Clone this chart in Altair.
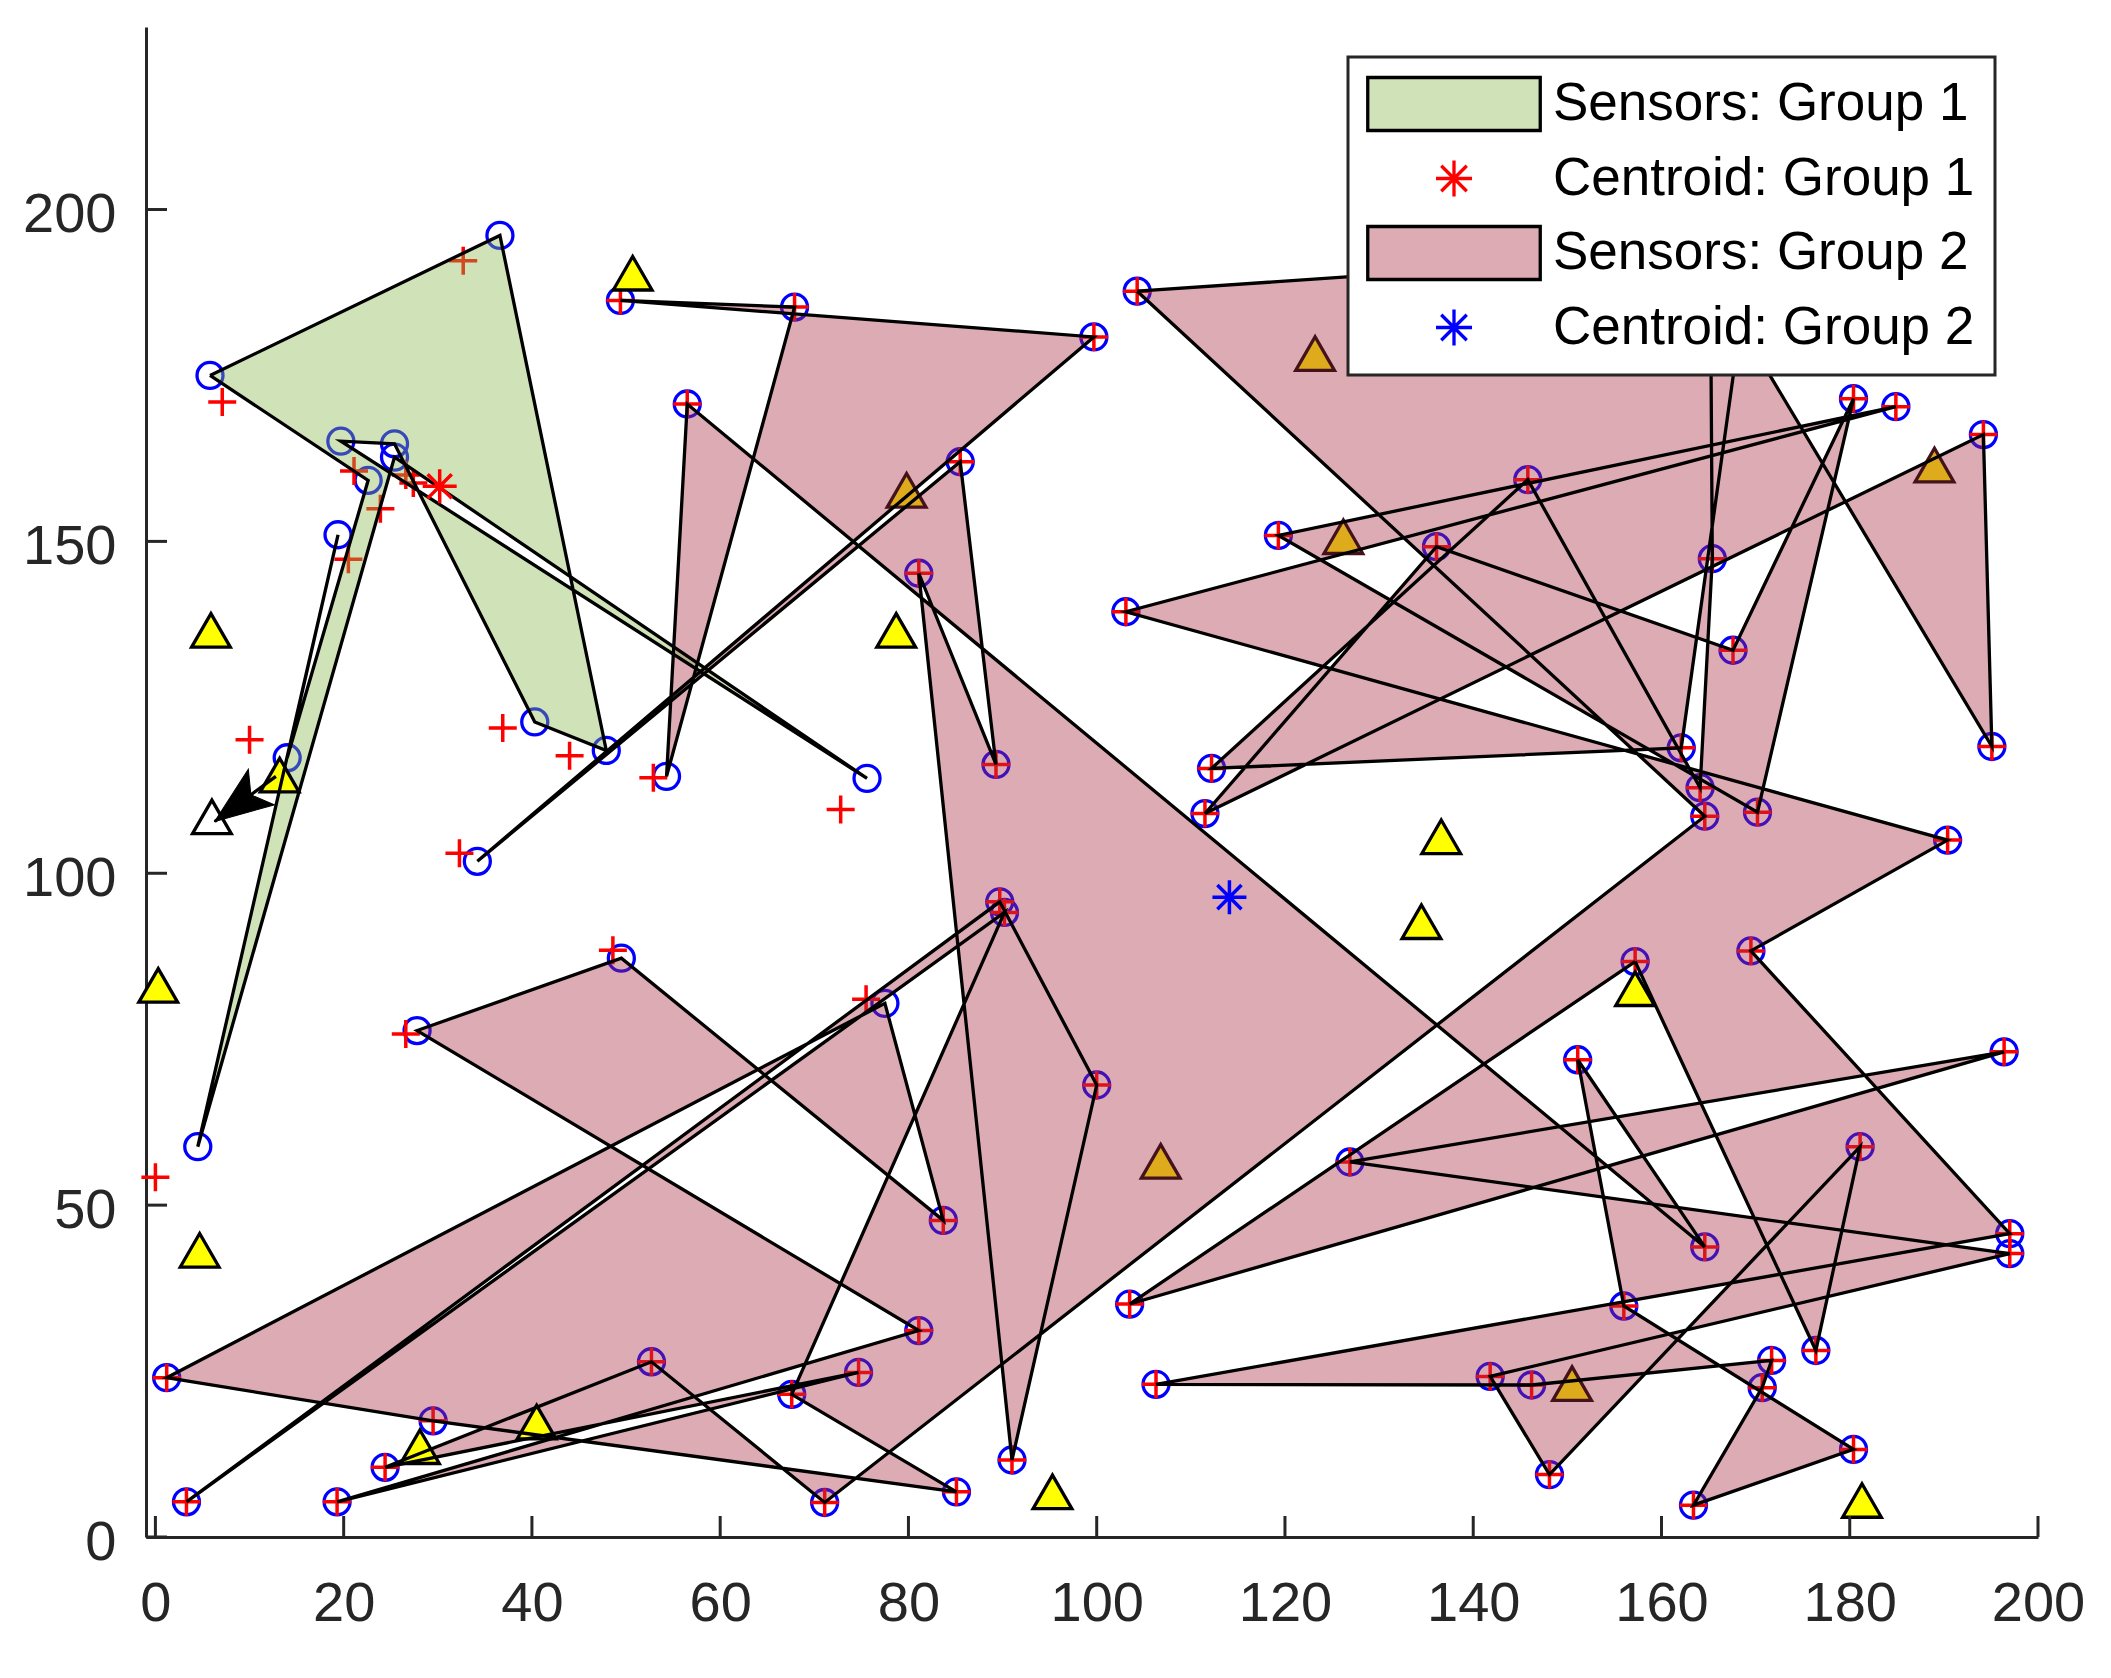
import altair as alt
import pandas as pd

# ---------------- data ----------------
# Group 1 sensors, listed in polygon (patch) vertex order
g1_x = [5.8, 36.6, 47.9, 40.3, 25.4, 19.7, 75.6, 25.4, 4.5, 19.4, 14.0, 22.6]
g1_y = [175.0, 196.1, 118.5, 122.8, 164.7, 165.1, 114.3, 162.7, 58.8, 151.0, 117.4, 159.2]
# Group 1 estimated positions (red +)
g1_est_x = [7.1, 32.7, 44.0, 36.9, 21.1, 26.6, 27.4, 23.9, 20.5, 10.0, 0.0, 72.8]
g1_est_y = [171.0, 192.3, 117.7, 121.9, 160.6, 160.0, 158.8, 154.9, 147.3, 120.1, 54.2, 109.6]

# Group 2 sensors, main patch ring in vertex order
g2_x = [104.3, 169.5, 162.1, 112.2, 145.8, 164.1, 165.4, 165.2, 195.1, 194.2, 111.5, 136.1,
        167.6, 180.4, 170.2, 119.3, 184.9, 103.1, 190.4, 169.5, 197.0, 106.3, 146.2, 171.7,
        170.7, 163.4, 180.4, 156.0, 151.1, 164.6, 56.5, 54.3, 67.9, 49.4, 99.7, 34.2,
        85.5, 89.3, 81.1, 91.0, 100.0, 89.7, 3.3, 90.2, 67.6, 85.1, 29.5, 1.2,
        77.5, 83.7, 49.5, 27.8, 81.1, 19.3, 74.7, 24.4, 52.7, 71.1, 164.6]
g2_y = [187.7, 194.0, 118.9, 115.8, 159.3, 112.9, 147.4, 190.0, 119.1, 166.1, 109.0, 149.2,
        133.6, 171.5, 109.2, 150.9, 170.3, 139.4, 105.0, 88.3, 45.7, 23.0, 22.9, 26.6,
        22.5, 4.8, 13.2, 34.8, 71.9, 43.7, 170.7, 114.6, 185.3, 186.3, 180.8, 101.8,
        162.0, 116.4, 145.2, 11.6, 68.1, 95.7, 5.3, 94.1, 21.5, 6.8, 17.5, 24.0,
        80.4, 47.7, 87.2, 76.3, 31.1, 5.3, 24.8, 10.5, 26.4, 5.2, 108.6]
# Group 2 sensors, second ring (lower right)
g2b_x = [157.2, 103.5, 196.4, 126.9, 197.0, 141.8, 148.1, 181.1, 176.4]
g2b_y = [86.7, 35.1, 73.1, 56.5, 42.7, 24.2, 9.4, 58.8, 28.1]
# position in the main ring where the second ring is joined for the fill
JOIN = 19
# Group 2 sensors whose estimate (red +) is offset, and those estimates
g2_off_x = [54.3, 34.2, 49.5, 27.8, 77.5]
g2_off_y = [114.6, 101.8, 87.2, 76.3, 80.4]
g2_offest_x = [52.9, 32.3, 48.6, 26.6, 75.5]
g2_offest_y = [114.4, 103.0, 88.4, 75.8, 81.0]

# Targets (triangles)
tri_yel_x = [50.7, 5.9, 0.3, 4.7, 13.2, 28.1, 40.5, 78.7, 95.3, 136.6, 134.5, 157.2, 181.3]
tri_yel_y = [190.4, 136.6, 83.1, 43.2, 114.8, 13.6, 17.3, 136.6, 6.8, 105.5, 92.7, 82.6, 5.5]
tri_cov_x = [79.8, 106.8, 123.2, 126.2, 189.0, 150.5]
tri_cov_y = [157.7, 56.6, 178.3, 150.7, 161.5, 23.1]
tri_white_x = [6.0]
tri_white_y = [108.5]

# Arrow (quiver) from target to new target
arrow_x0, arrow_y0 = [12.8], [114.6]
arrow_x1, arrow_y1 = [6.3], [107.8]

# Centroids
cent1_x, cent1_y = [30.2], [158.3]
cent2_x, cent2_y = [114.1], [96.4]

x_ticks = [0, 20, 40, 60, 80, 100, 120, 140, 160, 180, 200]
y_ticks = [0, 50, 100, 150, 200]

legend_labels = ["Sensors: Group 1", "Centroid: Group 1", "Sensors: Group 2", "Centroid: Group 2"]

# ---------------- frames ----------------
def ring_rows(xs_, ys_, ring):
    n = len(xs_)
    return [{'x': xs_[i % n], 'y': ys_[i % n], 'ord': i, 'ring': ring} for i in range(n + 1)]

poly1 = pd.DataFrame(ring_rows(g1_x, g1_y, 'a'))
# edges: two separate rings
poly2_edge = pd.DataFrame(ring_rows(g2_x, g2_y, 'a') + ring_rows(g2b_x, g2b_y, 'b'))
# fill: one single path (second ring spliced in with a zero-area bridge)
fx = g2_x[:JOIN + 1] + g2b_x + [g2b_x[0]] + g2_x[JOIN:]
fy = g2_y[:JOIN + 1] + g2b_y + [g2b_y[0]] + g2_y[JOIN:]
poly2_fill = pd.DataFrame(ring_rows(fx, fy, 'a'))

sens = pd.DataFrame({'x': g1_x + g2_x + g2b_x, 'y': g1_y + g2_y + g2b_y})

off_set = set(zip(g2_off_x, g2_off_y))
est_rows = [{'x': a, 'y': b} for a, b in zip(g1_est_x, g1_est_y)]
for a, b in zip(g2_x + g2b_x, g2_y + g2b_y):
    if (a, b) not in off_set:
        est_rows.append({'x': a, 'y': b})
est_rows += [{'x': a, 'y': b} for a, b in zip(g2_offest_x, g2_offest_y)]
est = pd.DataFrame(est_rows)

tri_y_df = pd.DataFrame({'x': tri_yel_x, 'y': tri_yel_y})
tri_c_df = pd.DataFrame({'x': tri_cov_x, 'y': tri_cov_y})
tri_w_df = pd.DataFrame({'x': tri_white_x, 'y': tri_white_y})
arrow_df = pd.DataFrame({'x': arrow_x0, 'y': arrow_y0, 'x2': arrow_x1, 'y2': arrow_y1})
head_df = pd.DataFrame({'x': arrow_x1, 'y': arrow_y1})
c1_df = pd.DataFrame({'x': cent1_x, 'y': cent1_y})
c2_df = pd.DataFrame({'x': cent2_x, 'y': cent2_y})
xt_df = pd.DataFrame({'x': x_ticks})
yt_df = pd.DataFrame({'y': y_ticks})
leg_df = pd.DataFrame({'x': [160.0] * 4, 'y': [200.0] * 4, 'item': legend_labels})

# ---------------- scales / axes ----------------
W, H = 1892, 1510
FONT = 'Liberation Sans'
AX = '#262626'
xs = alt.Scale(domain=[-1, 200], nice=False, zero=False)
ys = alt.Scale(domain=[0, 227.5], nice=False, zero=False)
xaxis = alt.Axis(values=x_ticks, ticks=False, labelPadding=39, labelFontSize=56, labelFont=FONT,
                 labelColor=AX, domainColor=AX, domainWidth=3, grid=False, title=None,
                 labelFlush=False, labelOverlap=False)
yaxis = alt.Axis(values=y_ticks, ticks=False, labelPadding=30, labelFontSize=56, labelFont=FONT,
                 labelColor=AX, domainColor=AX, domainWidth=3, grid=False, title=None,
                 labelFlush=False, labelOverlap=False, labelOffset=5)

def X():
    return alt.X('x:Q', scale=xs, axis=xaxis)

def Y():
    return alt.Y('y:Q', scale=ys, axis=yaxis)

CROSS = "M-1,0H1M0,-1V1"
AST = "M0,-1V1M-1,0H1M-0.71,-0.71L0.71,0.71M-0.71,0.71L0.71,-0.71"
HEAD = "M0,0L-2,-0.76L-1.55,0L-2,0.76Z"
RECT_L = "M-3.45,-1.06H3.45V1.06H-3.45Z"
AST_L = "M0,-0.72V0.72M-0.72,0H0.72M-0.51,-0.51L0.51,0.51M-0.51,0.51L0.51,-0.51"

GREEN = '#89B64D'
PINK = '#AA2D43'
LW = 3.3

circles = alt.Chart(sens).mark_point(shape='circle', filled=False, stroke='#0000FF', strokeWidth=LW,
                                     size=676, opacity=1).encode(x=X(), y=Y())
crosses = alt.Chart(est).mark_point(shape=CROSS, filled=False, stroke='#FF0000', strokeWidth=3.5,
                                    size=784, opacity=1).encode(x=X(), y=Y())

def poly_fill(df, col):
    return alt.Chart(df).mark_line(fill=col, fillOpacity=0.4, strokeOpacity=0).encode(
        x=X(), y=Y(), order='ord:Q', detail='ring:N')

def poly_edge(df):
    return alt.Chart(df).mark_line(stroke='black', strokeWidth=LW, strokeJoin='miter',
                                   strokeMiterLimit=4).encode(
        x=X(), y=Y(), order='ord:Q', detail='ring:N')

tri_yel = alt.Chart(tri_y_df).mark_point(shape='triangle-up', filled=True, fill='#FFFF00',
                                         stroke='black', strokeWidth=LW, size=1500, opacity=1).encode(x=X(), y=Y())
tri_cov = alt.Chart(tri_c_df).mark_point(shape='triangle-up', filled=True, fill='#DDAB1B',
                                         stroke='#44121B', strokeWidth=LW, size=1500, opacity=1).encode(x=X(), y=Y())
tri_wht = alt.Chart(tri_w_df).mark_point(shape='triangle-up', filled=True, fill='white',
                                         stroke='black', strokeWidth=LW, size=1500, opacity=1).encode(x=X(), y=Y())

shaft = alt.Chart(arrow_df).mark_rule(stroke='black', strokeWidth=LW).encode(
    x=X(), y=Y(), x2='x2:Q', y2='y2:Q')
head = alt.Chart(head_df).mark_point(shape=HEAD, filled=True, fill='black', stroke='black',
                                     strokeWidth=1, size=3364, angle=143.6, opacity=1).encode(x=X(), y=Y())

cent1 = alt.Chart(c1_df).mark_point(shape=AST, filled=False, stroke='#FF0000', strokeWidth=3.5,
                                    size=1156, opacity=1).encode(x=X(), y=Y())
cent2 = alt.Chart(c2_df).mark_point(shape=AST, filled=False, stroke='#0000FF', strokeWidth=3.5,
                                    size=1156, opacity=1).encode(x=X(), y=Y())

xt = alt.Chart(xt_df).mark_rule(stroke=AX, strokeWidth=3).encode(
    x=X(), y=alt.value(H), y2=alt.value(H - 21))
yt = alt.Chart(yt_df).mark_rule(stroke=AX, strokeWidth=3).encode(
    y=Y(), x=alt.value(0), x2=alt.value(21))

leg = alt.Legend(title=None, orient='none', legendX=1202, legendY=30, padding=20, rowPadding=13.5,
                 symbolOffset=59, labelOffset=72, labelFontSize=53, labelFont=FONT,
                 labelColor='black', fillColor='white', strokeColor=AX, symbolStrokeWidth=3.3,
                 symbolSize=2500, labelLimit=1000, type='symbol')
legend_layer = alt.Chart(leg_df).mark_point(size=2500, strokeWidth=3.3, opacity=1).encode(
    x=X(), y=Y(),
    shape=alt.Shape('item:N', scale=alt.Scale(domain=legend_labels, range=[RECT_L, AST_L, RECT_L, AST_L]), legend=leg),
    fill=alt.Fill('item:N', scale=alt.Scale(domain=legend_labels,
                                            range=['#CFE2B8', 'transparent', '#DDABB4', 'transparent']), legend=leg),
    stroke=alt.Stroke('item:N', scale=alt.Scale(domain=legend_labels,
                                                range=['black', '#FF0000', 'black', '#0000FF']), legend=leg),
)

chart = alt.layer(
    circles, crosses,
    poly_fill(poly2_fill, PINK), poly_fill(poly1, GREEN),
    tri_yel, tri_cov, tri_wht,
    poly_edge(poly2_edge), poly_edge(poly1),
    shaft, head, cent1, cent2, xt, yt, legend_layer
).properties(
    width=W, height=H,
    padding={'left': 138, 'top': 19, 'right': 62, 'bottom': 100},
    autosize=alt.AutoSizeParams(type='none'),
    background='white'
).configure_view(strokeWidth=0).configure_legend(strokeWidth=3)

chart.save("out.html", embed_options={"renderer": "svg", "actions": False})
